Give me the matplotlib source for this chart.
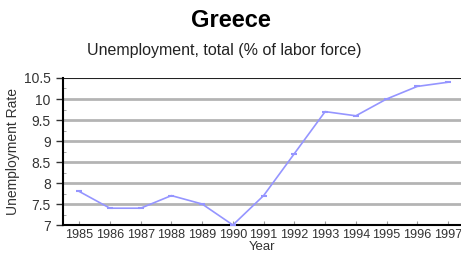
import numpy as np
import matplotlib.pyplot as plt

years = [1985, 1986, 1987, 1988, 1989, 1990, 1991, 1992, 1993, 1994, 1995, 1996, 1997]
rate = [7.8, 7.4, 7.4, 7.7, 7.5, 7.0, 7.7, 8.7, 9.7, 9.6, 10.0, 10.3, 10.4]
yticks = [7, 7.5, 8, 8.5, 9, 9.5, 10, 10.5]
ytick_labels = ['7', '7.5', '8', '8.5', '9', '9.5', '10', '10.5']

fig = plt.figure(figsize=(4.61, 2.57), dpi=100)
ax = fig.add_axes([0.137, 0.1245, 0.863, 0.572])

fig.text(0.501, 0.922, 'Greece', ha='center', va='center', fontsize=17,
         fontweight='bold', family='Liberation Sans')
fig.text(0.486, 0.805, 'Unemployment, total (% of labor force)', ha='center',
         va='center', fontsize=11.5, family='Liberation Sans', color='#222222')

# horizontal grid, gray, thick
for y in yticks[1:-1]:
    ax.axhline(y, color='#b4b4b4', lw=2, zorder=1)
ax.axhline(10.5, color='#222222', lw=1.5, zorder=2)

ax.plot(years, rate, color='#9595ff', lw=1.2, marker='_', ms=5, mew=1.5,
        zorder=3, clip_on=False)

ax.set_xlim(1984.48, 1997.42)
ax.set_ylim(7, 10.5)
ax.set_yticks(yticks)
ax.set_yticklabels(ytick_labels, family='Liberation Sans', fontsize=10,
                   color='#333333')
ax.set_yticks(np.arange(7, 10.51, 0.25), minor=True)
ax.set_xticks(years)
ax.set_xticklabels([str(y) for y in years], family='Liberation Sans',
                   fontsize=9.1, color='#333333')
ax.tick_params(axis='y', which='major', direction='out', length=5, width=1,
               pad=4, color='#333333')
ax.tick_params(axis='y', which='minor', direction='in', length=2,
               color='#999999')
ax.tick_params(axis='x', direction='in', length=3, color='#999999', pad=3)

for s in ['top', 'right']:
    ax.spines[s].set_visible(False)
ax.spines['left'].set_linewidth(1.5)
ax.spines['bottom'].set_linewidth(1.5)

ax.set_xlabel('Year', fontsize=9.5, family='Liberation Sans', labelpad=0,
              color='#333333')
ax.set_ylabel('Unemployment Rate', fontsize=10, family='Liberation Sans',
              labelpad=3, color='#333333')

plt.savefig('out.png', dpi=100)
